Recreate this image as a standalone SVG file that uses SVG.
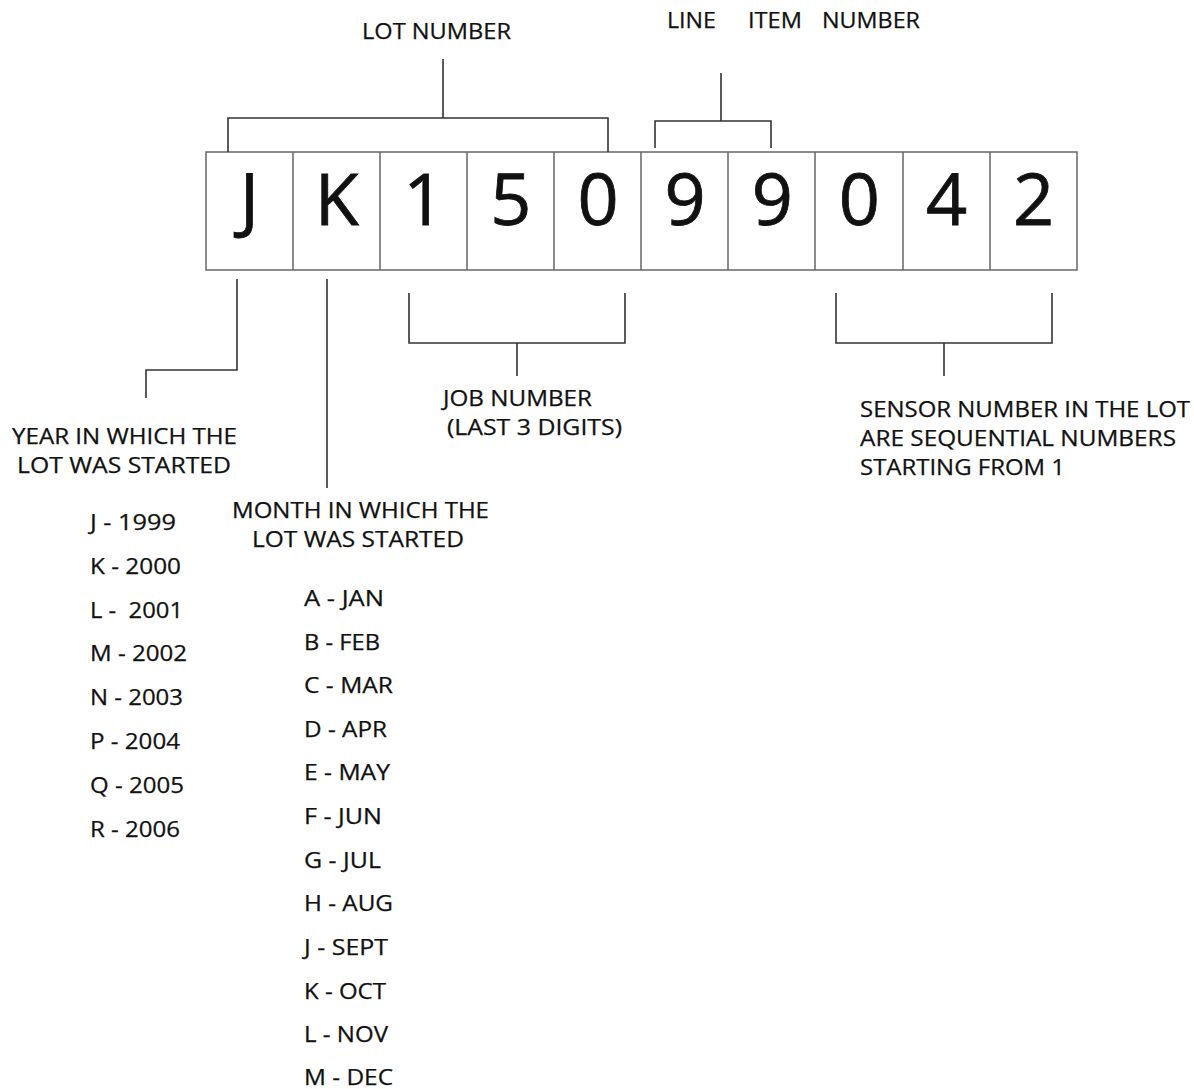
<svg xmlns="http://www.w3.org/2000/svg" width="1194" height="1089" viewBox="0 0 1194 1089">
<style>
text{font-family:"Open Sans","Liberation Sans",sans-serif;fill:#111;font-size:21.5px;stroke:#111;stroke-width:0.25}
.d{font-size:72px;text-anchor:middle;stroke-width:0.8}
.box{fill:#fff;stroke:#666;stroke-width:1.5}
.ln{fill:none;stroke:#333;stroke-width:1.6}
</style>
<rect width="1194" height="1089" fill="#fff"/>
<g id="code">
<rect class="box" x="206" y="152" width="871" height="118"/>
<path class="ln" style="stroke:#666;stroke-width:1.5" d="M293 152V270M380 152V270M467 152V270M554 152V270M641 152V270M728 152V270M815 152V270M903 152V270M990 152V270"/>
<text class="d" x="249.5" y="225">J</text>
<text class="d" x="336.7" y="225">K</text>
<text class="d" x="423.8" y="225">1</text>
<text class="d" x="510.9" y="225">5</text>
<text class="d" x="598" y="225">0</text>
<text class="d" x="685" y="225">9</text>
<text class="d" x="772.3" y="225">9</text>
<text class="d" x="859.4" y="225">0</text>
<text class="d" x="946.5" y="225">4</text>
<text class="d" x="1033.6" y="225">2</text>
</g>
<g id="connectors">
<path class="ln" d="M228 152V118H608V152M443 59V118"/>
<path class="ln" d="M655 148V121H771V148M721 73V121"/>
<path class="ln" d="M237 279V370H146V398"/>
<path class="ln" d="M327 279V488"/>
<path class="ln" d="M409 293V343H625V293M517 343V376"/>
<path class="ln" d="M836 293V343H1052V293M944 343V376"/>
</g>
<g id="lot-number"><text x="362" y="39" textLength="149" lengthAdjust="spacingAndGlyphs">LOT NUMBER</text></g>
<g id="line-item-number"><text x="667" y="28" textLength="49" lengthAdjust="spacingAndGlyphs">LINE</text><text x="748" y="28" textLength="54" lengthAdjust="spacingAndGlyphs">ITEM</text><text x="822" y="28" textLength="98" lengthAdjust="spacingAndGlyphs">NUMBER</text></g>
<g id="year-label"><text x="12" y="444" textLength="225" lengthAdjust="spacingAndGlyphs">YEAR IN WHICH THE</text><text x="17" y="473" textLength="214" lengthAdjust="spacingAndGlyphs">LOT WAS STARTED</text></g>
<g id="month-label"><text x="232" y="518" textLength="257" lengthAdjust="spacingAndGlyphs">MONTH IN WHICH THE</text><text x="252" y="547" textLength="212" lengthAdjust="spacingAndGlyphs">LOT WAS STARTED</text></g>
<g id="job-label"><text x="443" y="406" textLength="149" lengthAdjust="spacingAndGlyphs">JOB NUMBER</text><text x="447" y="435" textLength="175" lengthAdjust="spacingAndGlyphs">(LAST 3 DIGITS)</text></g>
<g id="sensor-label"><text x="860" y="417" textLength="330" lengthAdjust="spacingAndGlyphs">SENSOR NUMBER IN THE LOT</text><text x="860" y="446" textLength="316" lengthAdjust="spacingAndGlyphs">ARE SEQUENTIAL NUMBERS</text><text x="860" y="475" textLength="205" lengthAdjust="spacingAndGlyphs">STARTING FROM 1</text></g>
<g id="year-list">
<text x="90" y="530" textLength="86" lengthAdjust="spacingAndGlyphs">J - 1999</text>
<text x="90" y="574" textLength="91" lengthAdjust="spacingAndGlyphs">K - 2000</text>
<text x="90" y="618" textLength="93" lengthAdjust="spacingAndGlyphs" xml:space="preserve">L -  2001</text>
<text x="90" y="661" textLength="97" lengthAdjust="spacingAndGlyphs">M - 2002</text>
<text x="90" y="705" textLength="93" lengthAdjust="spacingAndGlyphs">N - 2003</text>
<text x="90" y="749" textLength="90" lengthAdjust="spacingAndGlyphs">P - 2004</text>
<text x="90" y="793" textLength="94" lengthAdjust="spacingAndGlyphs">Q - 2005</text>
<text x="90" y="837" textLength="90" lengthAdjust="spacingAndGlyphs">R - 2006</text>
</g>
<g id="month-list">
<text x="304" y="606" textLength="80" lengthAdjust="spacingAndGlyphs">A - JAN</text>
<text x="304" y="650" textLength="76" lengthAdjust="spacingAndGlyphs">B - FEB</text>
<text x="304" y="693" textLength="89" lengthAdjust="spacingAndGlyphs">C - MAR</text>
<text x="304" y="737" textLength="83" lengthAdjust="spacingAndGlyphs">D - APR</text>
<text x="304" y="780" textLength="86" lengthAdjust="spacingAndGlyphs">E - MAY</text>
<text x="304" y="824" textLength="78" lengthAdjust="spacingAndGlyphs">F - JUN</text>
<text x="304" y="868" textLength="77" lengthAdjust="spacingAndGlyphs">G - JUL</text>
<text x="304" y="911" textLength="89" lengthAdjust="spacingAndGlyphs">H - AUG</text>
<text x="304" y="955" textLength="84" lengthAdjust="spacingAndGlyphs">J - SEPT</text>
<text x="304" y="999" textLength="82" lengthAdjust="spacingAndGlyphs">K - OCT</text>
<text x="304" y="1042" textLength="84" lengthAdjust="spacingAndGlyphs">L - NOV</text>
<text x="304" y="1085" textLength="89" lengthAdjust="spacingAndGlyphs">M - DEC</text>
</g>
</svg>
